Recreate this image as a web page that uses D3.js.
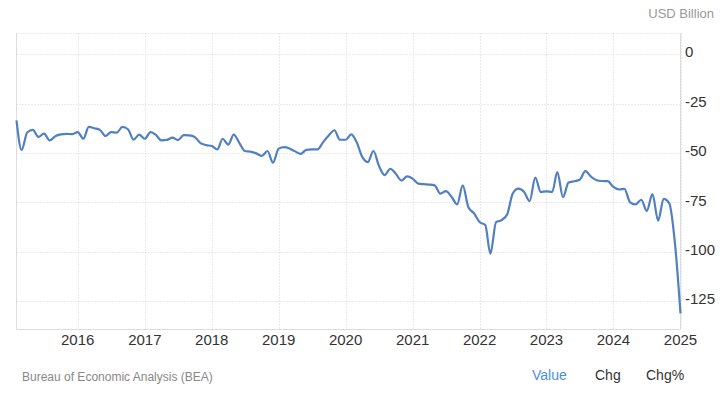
<!DOCTYPE html>
<html>
<head>
<meta charset="utf-8">
<script src="https://cdn.jsdelivr.net/npm/d3@7"></script>
<style>
  body { margin: 0; background: #fff; }
  svg { display: block; font-family: "Liberation Sans", Arial, sans-serif; }
</style>
</head>
<body>
<div id="chart"></div>
<script>
// US balance of trade, monthly, USD billion (Feb 2015 - Jan 2025)
var values2015 = [-33.5, -48.5, -39.5, -38.3, -41.9, -40.2, -43.6, -41.5, -40.6, -40.3, -40.5];
var values2016 = [-39.4, -42.8, -36.8, -37.5, -38.3, -41.4, -39.4, -39.7, -36.8, -38.0, -43.3, -40.7];
var values2017 = [-42.8, -39.4, -40.7, -43.6, -43.4, -42.2, -43.5, -41.0, -41.1, -42.0, -45.0, -46.0];
var values2018 = [-46.5, -48.2, -42.8, -45.8, -40.7, -45.0, -49.0, -49.3, -50.2, -51.5, -49.0, -54.9];
var values2019 = [-47.8, -47.0, -47.7, -49.2, -50.5, -48.4, -48.2, -48.2, -44.5, -41.2, -38.5, -43.3];
var values2020 = [-43.3, -40.6, -44.5, -52.0, -54.6, -49.0, -56.5, -61.2, -58.0, -60.5, -64.0, -61.9];
var values2021 = [-63.0, -65.5, -65.8, -66.0, -66.4, -70.6, -69.3, -72.2, -76.0, -66.4, -77.5, -80.5];
var values2022 = [-85.0, -86.5, -101.0, -85.0, -84.0, -81.0, -70.5, -68.1, -69.8, -74.4, -62.5, -69.8];
var values2023 = [-69.4, -69.8, -59.7, -72.4, -65.0, -64.3, -63.6, -59.2, -62.0, -63.8, -64.2, -64.3];
var values2024 = [-67.2, -68.5, -68.2, -75.0, -76.0, -73.7, -79.3, -70.8, -84.3, -73.2, -75.5, -95.0];
var values2025 = [-131.2];

var firstMonth = new Date(2015, 1, 1);
var lastMonth = new Date(2025, 0, 1);
var yearTicks = [2016, 2017, 2018, 2019, 2020, 2021, 2022, 2023, 2024, 2025];
var valueTicks = [0, -25, -50, -75, -100, -125];
var footerLinks = ['Value', 'Chg', 'Chg%'];

var values = [].concat(values2015, values2016, values2017, values2018, values2019,
    values2020, values2021, values2022, values2023, values2024, values2025);
var months = d3.timeMonth.range(firstMonth, d3.timeMonth.offset(lastMonth, 1));
var dataset = months.map(function (m, i) { return { date: m, value: values[i] }; });

var width = 720, height = 397;
var plot = { left: 16.5, right: 680.5, top: 33.5, bottom: 329.5 };

var svg = d3.select('#chart').append('svg')
    .attr('width', width)
    .attr('height', height);

var x = d3.scaleTime()
    .domain([firstMonth, lastMonth])
    .range([plot.left, plot.right]);
var y = d3.scaleLinear()
    .domain([-139.4, 10.5])
    .range([plot.bottom, plot.top]);

// Grid
var grid = svg.append('g')
    .attr('stroke', '#d4d4d4')
    .attr('stroke-dasharray', '1,2');

grid.selectAll('.vgrid')
    .data(yearTicks)
    .enter()
    .append('line')
    .attr('class', 'vgrid')
    .attr('x1', function (d) { return Math.round(x(new Date(d, 0, 1))) + 0.5; })
    .attr('x2', function (d) { return Math.round(x(new Date(d, 0, 1))) + 0.5; })
    .attr('y1', plot.top)
    .attr('y2', plot.bottom);

grid.selectAll('.hgrid')
    .data(valueTicks)
    .enter()
    .append('line')
    .attr('class', 'hgrid')
    .attr('x1', plot.left)
    .attr('x2', plot.right)
    .attr('y1', function (d) { return Math.round(y(d)) + 0.5; })
    .attr('y2', function (d) { return Math.round(y(d)) + 0.5; });

grid.append('line')
    .attr('x1', plot.left)
    .attr('x2', plot.right)
    .attr('y1', plot.top)
    .attr('y2', plot.top);

// Frame (left, right, bottom)
svg.append('path')
    .attr('d', 'M' + plot.left + ',' + plot.top + 'V' + plot.bottom + 'H' + plot.right + 'V' + plot.top)
    .attr('fill', 'none')
    .attr('stroke', '#dcdcdc')
    .attr('stroke-width', 1);

// Axis labels
svg.append('g')
    .selectAll('text')
    .data(yearTicks)
    .enter()
    .append('text')
    .attr('x', function (d) { return x(new Date(d, 0, 1)); })
    .attr('y', 344.5)
    .attr('text-anchor', 'middle')
    .style('font-size', '15px')
    .style('fill', '#333')
    .text(function (d) { return d; });

svg.append('g')
    .selectAll('text')
    .data(valueTicks)
    .enter()
    .append('text')
    .attr('x', 685)
    .attr('y', function (d) { return y(d) - 2; })
    .attr('dy', '0.35em')
    .style('font-size', '15px')
    .style('fill', '#333')
    .text(function (d) { return d; });

// Series line
var line = d3.line()
    .x(function (d) { return x(d.date); })
    .y(function (d) { return y(d.value); })
    .curve(d3.curveMonotoneX);

svg.append('path')
    .datum(dataset)
    .attr('d', line)
    .attr('fill', 'none')
    .attr('stroke', '#5080c0')
    .attr('stroke-width', 2.2)
    .attr('stroke-linejoin', 'round');

// Unit + footer
svg.append('text')
    .attr('x', 714)
    .attr('y', 17.5)
    .attr('text-anchor', 'end')
    .style('font-size', '13px')
    .style('fill', '#999')
    .text('USD Billion');

svg.append('text')
    .attr('x', 22)
    .attr('y', 381)
    .style('font-size', '12px')
    .style('fill', '#888')
    .text('Bureau of Economic Analysis (BEA)');

var linkX = [532, 595, 646];
svg.append('g')
    .selectAll('text')
    .data(footerLinks)
    .enter()
    .append('text')
    .attr('x', function (d, i) { return linkX[i]; })
    .attr('y', 380)
    .style('font-size', '14px')
    .style('fill', function (d, i) { return i === 0 ? '#4a90e2' : '#333'; })
    .text(function (d) { return d; });
</script>
</body>
</html>
